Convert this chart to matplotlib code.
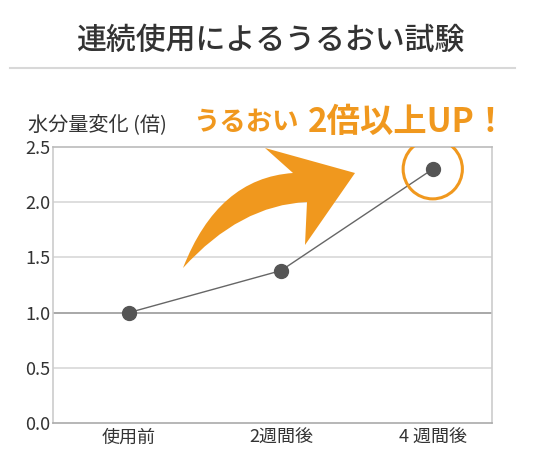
import matplotlib.pyplot as plt
from matplotlib.path import Path
from matplotlib.patches import PathPatch, Ellipse

plt.rcParams['font.family'] = ['Noto Sans CJK JP', 'DejaVu Sans']

periods = ['使用前', '2週間後', '4 週間後']
moisture_ratio = [1.0, 1.38, 2.30]
y_ticks = [0.0, 0.5, 1.0, 1.5, 2.0, 2.5]

ORANGE = '#F0981E'
W, H = 540, 465

fig = plt.figure(figsize=(W / 100, H / 100), dpi=100)
fig.patch.set_facecolor('white')


def px(x, y):
    # image pixel (from top-left) -> figure fraction
    return (x / W, 1 - y / H)


# title + rule under it
fig.text(0.5, px(0, 40)[1], '連続使用によるうるおい試験', ha='center', va='center',
         fontsize=21.5, fontweight='medium', color='#333333')
fig.add_artist(plt.Line2D([10 / W, 515 / W], [px(0, 68)[1]] * 2,
                          color='#d8d8d8', lw=1.5, transform=fig.transFigure))

ax = fig.add_axes([53 / W, 42 / H, 439 / W, 276 / H])
xs = range(len(periods))

for v in y_ticks[1:-1]:
    ax.axhline(v, color='#999999' if v == 1.0 else '#d8d8d8', lw=1.2, zorder=1)

ax.plot(xs, moisture_ratio, color='#666666', lw=1, marker='o', markersize=10,
        markerfacecolor='#555555', markeredgecolor='#555555', zorder=3)

ax.set_xlim(-0.5, 2.39)
ax.set_ylim(0, 2.5)
ax.set_yticks(y_ticks)
ax.set_yticklabels([f'{v:.1f}' for v in y_ticks])
ax.set_xticks(list(xs))
ax.set_xticklabels(periods)
ax.tick_params(length=0, labelsize=13, colors='#333333', pad=4)
ax.tick_params(axis='y', pad=2)
for side, c in [('left', '#cccccc'), ('right', '#cccccc'), ('top', '#bbbbbb'), ('bottom', '#aaaaaa')]:
    ax.spines[side].set_color(c)
    ax.spines[side].set_linewidth(1.2)

# highlight circle around the last point
ax.add_patch(Ellipse((2, moisture_ratio[2]), 0.39, 0.54, fill=False,
                     edgecolor=ORANGE, lw=2.2, zorder=4))

# big curved arrow
pts = [px(183, 268), px(218, 178), px(293, 173), px(265, 148), px(355, 173),
       px(305, 245), px(307, 202), px(240, 205), px(183, 268)]
codes = [Path.MOVETO, Path.CURVE3, Path.CURVE3, Path.LINETO, Path.LINETO,
         Path.LINETO, Path.LINETO, Path.CURVE3, Path.CURVE3]
fig.add_artist(PathPatch(Path(pts, codes), facecolor=ORANGE, edgecolor='none',
                         transform=fig.transFigure))

# labels above the plot
fig.text(28 / W, px(0, 125)[1], '水分量変化 (倍)', ha='left', va='center',
         fontsize=14.5, color='#333333')
fig.text(193 / W, px(0, 123)[1], 'うるおい', ha='left', va='center',
         fontsize=19, fontweight='bold', color=ORANGE)
fig.text(508 / W, px(0, 122)[1], '2倍以上UP！', ha='right', va='center',
         fontsize=24, fontweight='bold', color=ORANGE)

fig.savefig('out.png', dpi=100, facecolor='white')
